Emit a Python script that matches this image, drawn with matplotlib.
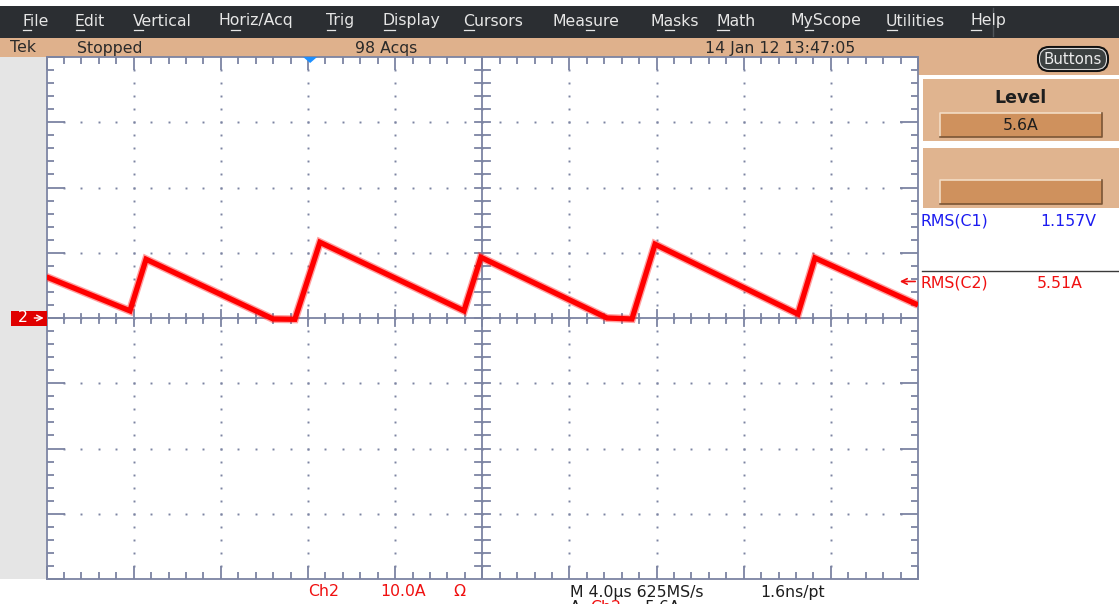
import matplotlib
matplotlib.use("Agg")
import matplotlib.pyplot as plt
from matplotlib.patches import Rectangle, FancyBboxPatch, Polygon

# Ch2 current trace: time in us, current in A
time_us = [-20.0, -16.17, -15.43, -9.6, -8.6, -7.45, -0.84, -0.06,
           5.73, 6.87, 7.93, 14.49, 15.27, 20.0]
current_a = [6.3, 1.1, 9.0, -0.15, -0.2, 11.6, 1.1, 9.3,
             0.0, -0.15, 11.3, 0.6, 9.2, 2.0]

# scope settings
time_per_div = 4.0      # us/div
amps_per_div = 10.0     # A/div
n_hdiv, n_vdiv = 10, 8
trig_level_a = 5.6

menu_items = ["File", "Edit", "Vertical", "Horiz/Acq", "Trig", "Display", "Cursors",
              "Measure", "Masks", "Math", "MyScope", "Utilities", "Help"]
menu_hotkey = [0, 0, 0, 1, 0, 0, 0, 3, 1, 0, 1, 0, 0]
menu_x = [22, 75, 133, 219, 326, 383, 463, 553, 651, 716, 791, 886, 970]

status_texts = ["Tek", "Stopped", "98 Acqs", "14 Jan 12 13:47:05"]
status_x = [10, 77, 355, 705]

trig_level = "5.6A"
meas_names = ["RMS(C1)", "RMS(C2)"]
meas_values = ["1.157V", "5.51A"]

W, H = 1119, 604
GRAT = "#7c84a2"
PEACH = "#dfb18c"
BOX = "#cf915d"
FONT = "DejaVu Sans"
FS = 11.3

fig = plt.figure(figsize=(W / 100, H / 100), dpi=100)
fig.patch.set_facecolor("white")

# background / chrome axes in pixel coordinates
bg = fig.add_axes([0, 0, 1, 1], zorder=0)
bg.set_xlim(0, W)
bg.set_ylim(H, 0)
bg.axis("off")

bg.add_patch(Rectangle((0, 6), W, 32, fc="#2b2e32", ec="none"))
bg.plot([993, 993], [8, 36], color="#50555a", lw=1)
bg.add_patch(Rectangle((0, 38), W, 19, fc=PEACH, ec="none"))
bg.add_patch(Rectangle((0, 57), 46, 522, fc="#e5e5e5", ec="none"))

renderer = fig.canvas.get_renderer()


def text_width(s):
    if not s:
        return 0
    t = bg.text(0, 0, s, fontsize=FS, family=FONT)
    w = t.get_window_extent(renderer).width
    t.remove()
    return w


for name, k, x in zip(menu_items, menu_hotkey, menu_x):
    bg.text(x, 21, name, color="#e6e6e6", fontsize=FS, family=FONT, va="center")
    # underline the hotkey letter
    w0 = text_width(name[:k])
    w1 = text_width(name[:k + 1])
    bg.plot([x + w0 + 0.5, x + w1 - 0.5], [30, 30], color="#e6e6e6", lw=0.9)

for s, x in zip(status_texts, status_x):
    bg.text(x, 48, s, color="#2a2a2a", fontsize=FS, family=FONT, va="center")

# right hand panel
bg.add_patch(Rectangle((918, 57), W - 918, 18, fc=PEACH, ec="none"))
bg.add_patch(FancyBboxPatch((1038, 47), 70, 24, boxstyle="round,pad=0,rounding_size=11",
                            fc="#3b4040", ec="#111111", lw=1.5))
bg.add_patch(FancyBboxPatch((1039.5, 48.5), 67, 21, boxstyle="round,pad=0,rounding_size=10",
                            fc="none", ec="#d8d8d8", lw=0.8))
bg.text(1073, 59, "Buttons", color="#ececec", fontsize=10.8, family=FONT,
        ha="center", va="center")

for y0, y1 in [(79, 141), (148, 208)]:
    bg.add_patch(Rectangle((923, y0), W - 923, y1 - y0, fc="#e0b48f", ec="none"))
bg.text(1020, 98, "Level", color="#1e1e1e", fontsize=12.5, family=FONT, weight="bold",
        ha="center", va="center")
for y0, y1 in [(113, 137), (180, 204)]:
    bg.add_patch(Rectangle((940, y0), 162, y1 - y0, fc=BOX, ec="none"))
    bg.plot([940, 940, 1102], [y1, y0, y0], color="#f3dcc4", lw=1.2)
    bg.plot([940, 1102, 1102], [y1, y1, y0], color="#7a5535", lw=1.2)
bg.text(1021, 125, trig_level, color="#1e1e1e", fontsize=FS, family=FONT,
        ha="center", va="center")

bg.text(921, 221, meas_names[0], color="#1c1cf0", fontsize=FS, family=FONT, va="center")
bg.text(1040, 221, meas_values[0], color="#1c1cf0", fontsize=FS, family=FONT, va="center")
bg.plot([922, W], [271, 271], color="#3a3a3a", lw=1)
bg.text(921, 283, meas_names[1], color="#f01010", fontsize=FS, family=FONT, va="center")
bg.text(1037, 283, meas_values[1], color="#f01010", fontsize=FS, family=FONT, va="center")

# readout line under the graticule
bg.text(308, 592, "Ch2", color="#f01010", fontsize=FS, family=FONT, va="center")
bg.text(380, 592, "10.0A", color="#f01010", fontsize=FS, family=FONT, va="center")
bg.text(453, 592, "\u03a9", color="#f01010", fontsize=FS, family=FONT, va="center")
bg.text(570, 592, "M 4.0\u00b5s 625MS/s", color="#1e1e1e", fontsize=FS, family=FONT,
        va="center")
bg.text(760, 592, "1.6ns/pt", color="#1e1e1e", fontsize=FS, family=FONT, va="center")
# second readout line, mostly below the screen edge
bg.text(570, 600, "A", color="#1e1e1e", fontsize=FS, family=FONT, va="top")
bg.text(590, 600, "Ch2", color="#f01010", fontsize=FS, family=FONT, va="top")
bg.text(645, 600, "5.6A", color="#1e1e1e", fontsize=FS, family=FONT, va="top")

# graticule axes in scope units
x0, x1, ytop, ybot = 46.5, 918, 57, 579
ax = fig.add_axes([x0 / W, (H - ybot) / H, (x1 - x0) / W, (ybot - ytop) / H], zorder=1)
tmax = time_per_div * n_hdiv / 2
imax = amps_per_div * n_vdiv / 2
ax.set_xlim(-tmax, tmax)
ax.set_ylim(-imax, imax)
ax.set_facecolor("white")
for sp in ax.spines.values():
    sp.set_color(GRAT)
    sp.set_linewidth(1.3)
ax.set_xticks([time_per_div * (i - n_hdiv / 2) for i in range(n_hdiv + 1)])
ax.set_xticks([time_per_div / 5 * i - tmax for i in range(n_hdiv * 5 + 1)], minor=True)
ax.set_yticks([amps_per_div * (i - n_vdiv / 2) for i in range(n_vdiv + 1)])
ax.set_yticks([amps_per_div / 5 * i - imax for i in range(n_vdiv * 5 + 1)], minor=True)
ax.tick_params(which="both", direction="in", top=True, right=True, color=GRAT, width=1.3,
               labelbottom=False, labelleft=False)
ax.tick_params(axis="x", which="major", length=9.5)
ax.tick_params(axis="y", which="major", length=13)
ax.tick_params(which="minor", length=5)

px_t = 2 * tmax / (x1 - x0)     # us per pixel
px_i = 2 * imax / (ybot - ytop)  # A per pixel

# dotted grid
for i in range(1, n_hdiv):
    tg = time_per_div * i - tmax
    ys = [amps_per_div / 5 * k - imax for k in range(1, n_vdiv * 5)]
    ax.plot([tg] * len(ys), ys, ls="none", marker="s", ms=1.4, color=GRAT, mec="none")
for j in range(1, n_vdiv):
    ig = amps_per_div * j - imax
    xs = [time_per_div / 5 * k - tmax for k in range(1, n_hdiv * 5)]
    ax.plot(xs, [ig] * len(xs), ls="none", marker="s", ms=1.4, color=GRAT, mec="none")

# centre cross with its ticks
ax.axhline(0, color=GRAT, lw=1.3)
ax.axvline(0, color=GRAT, lw=1.3)
for k in range(1, n_hdiv * 5):
    tk = time_per_div / 5 * k - tmax
    h = 8 if k % 5 == 0 else 4.5
    ax.plot([tk, tk], [-h * px_i, h * px_i], color=GRAT, lw=1.3)
for k in range(1, n_vdiv * 5):
    ik = amps_per_div / 5 * k - imax
    ax.plot([-7.5 * px_t, 7.5 * px_t], [ik, ik], color=GRAT, lw=1.3)

# Ch2 trace: thick fuzzy red line
ax.plot(time_us, current_a, color="#ff3030", lw=5.8, alpha=0.45, solid_joinstyle="miter",
        solid_capstyle="butt", zorder=3)
ax.plot(time_us, current_a, color="#ff0000", lw=3.8, solid_joinstyle="miter",
        solid_capstyle="butt", zorder=3)

# trigger position marker at top
trig_t = -7.9
ax.add_patch(Polygon([(trig_t - 7 * px_t, imax), (trig_t + 7 * px_t, imax),
                      (trig_t, imax - 6 * px_i)], closed=True, fc="#1e90ff", ec="none",
                     clip_on=False, zorder=5))

# channel 2 ground marker on the left
ax.add_patch(Rectangle((-tmax - 36 * px_t, -7.5 * px_i), 36 * px_t, 15 * px_i,
                       fc="#e00000", ec="none", clip_on=False, zorder=5))
ax.text(-tmax - 24 * px_t, 0, "2", color="white", fontsize=FS, family=FONT,
        ha="center", va="center", clip_on=False, zorder=6)
ax.annotate("", xy=(-tmax, 0), xytext=(-tmax - 15 * px_t, 0),
            arrowprops=dict(arrowstyle="->", color="white", lw=1), annotation_clip=False,
            zorder=6)

# trigger level arrow on the right
ax.annotate("", xy=(tmax - 21 * px_t, trig_level_a), xytext=(tmax, trig_level_a),
            arrowprops=dict(arrowstyle="->", color="#f01010", lw=1.2), annotation_clip=False,
            zorder=6)

fig.savefig("out.png", dpi=100)
